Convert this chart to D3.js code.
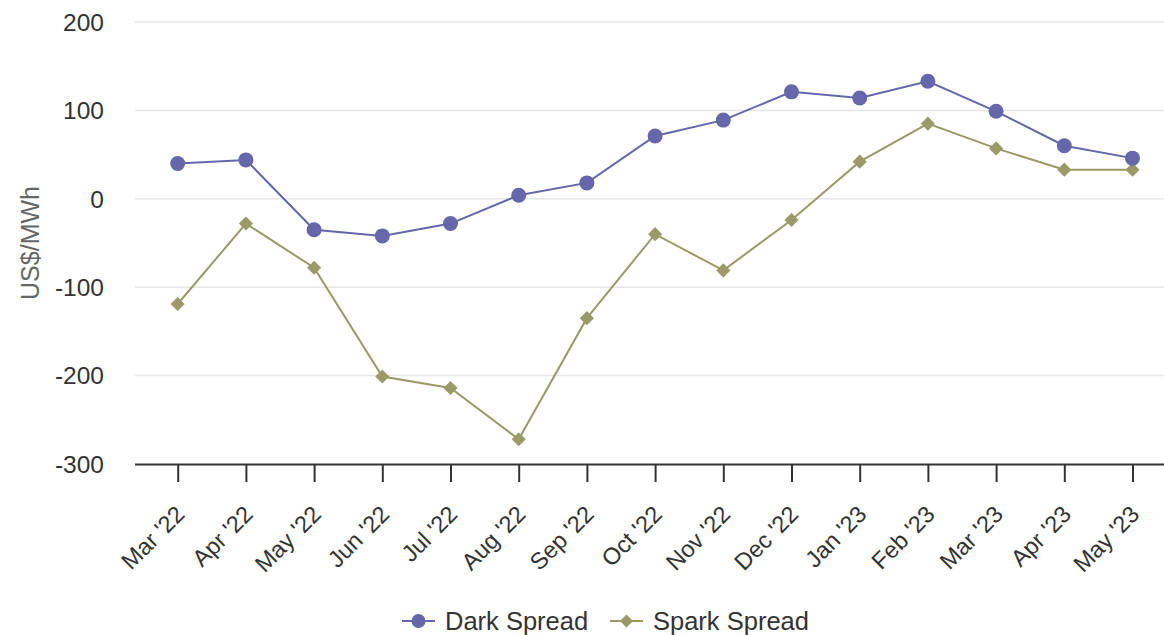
<!DOCTYPE html>
<html>
<head>
<meta charset="utf-8">
<script src="https://cdn.jsdelivr.net/npm/d3@7"></script>
<style>
  html, body { margin: 0; padding: 0; background: #fff; }
  svg { display: block; font-family: "Liberation Sans", Arial, sans-serif; }
</style>
</head>
<body>
<svg id="chart" width="1164" height="635"></svg>
<script>
// Monthly clean dark and spark spreads, US$/MWh
const months = ["Mar '22", "Apr '22", "May '22", "Jun '22", "Jul '22", "Aug '22", "Sep '22",
  "Oct '22", "Nov '22", "Dec '22", "Jan '23", "Feb '23", "Mar '23", "Apr '23", "May '23"];
const darkSpread = [40, 44, -35, -42, -28, 4, 18, 71, 89, 121, 114, 133, 99, 60, 46];
const sparkSpread = [-119, -28, -78, -201, -214, -272, -135, -40, -81, -24, 42, 85, 57, 33, 33];
const yTicks = [200, 100, 0, -100, -200, -300];

const darkColor = "#6666aa";
const sparkColor = "#9a9a68";

const svg = d3.select("#chart");
const plotLeft = 135, plotRight = 1164;

const x = d3.scalePoint().domain(months).range([177.7, 1132.5]);
const y = d3.scaleLinear().domain([-300, 200]).range([464, 22]);

// gridlines
svg.append("g")
  .selectAll("line")
  .data(yTicks.filter(t => t !== -300))
  .join("line")
  .attr("x1", plotLeft).attr("x2", plotRight)
  .attr("y1", d => y(d)).attr("y2", d => y(d))
  .attr("stroke", "#e6e6e6").attr("stroke-width", 1.5);

// y tick labels
svg.append("g")
  .selectAll("text")
  .data(yTicks)
  .join("text")
  .attr("x", 104).attr("y", d => y(d))
  .attr("dy", "0.36em")
  .attr("text-anchor", "end")
  .attr("font-size", 24.5)
  .attr("fill", "#333")
  .text(d => d);

// y axis title
svg.append("text")
  .attr("transform", `translate(30,243) rotate(-90)`)
  .attr("text-anchor", "middle")
  .attr("dy", "0.35em")
  .attr("font-size", 25)
  .attr("fill", "#666")
  .text("US$/MWh");

// x axis
const xAxis = d3.axisBottom(x).tickSize(18).tickSizeOuter(0).tickPadding(6);
const gx = svg.append("g").attr("transform", `translate(0,${y(-300)})`).call(xAxis);
gx.attr("font-size", null).attr("font-family", null);
gx.select(".domain").attr("d", `M${plotLeft},0.5H${plotRight}`).attr("stroke", "#333").attr("stroke-width", 2);
gx.selectAll(".tick line").attr("stroke", "#333").attr("stroke-width", 2);
gx.selectAll(".tick text")
  .attr("font-size", 23.5)
  .attr("fill", "#333")
  .attr("text-anchor", "end")
  .attr("transform", "translate(2,46) rotate(-45)")
  .attr("dy", "0.35em")
  .attr("y", 0).attr("x", 0);

// series
const line = d3.line().x((d, i) => x(months[i])).y(d => y(d));

svg.append("path").datum(sparkSpread)
  .attr("d", line).attr("fill", "none")
  .attr("stroke", sparkColor).attr("stroke-width", 2);
svg.append("path").datum(darkSpread)
  .attr("d", line).attr("fill", "none")
  .attr("stroke", darkColor).attr("stroke-width", 2);

svg.append("g").selectAll("path")
  .data(sparkSpread)
  .join("path")
  .attr("transform", (d, i) => `translate(${x(months[i])},${y(d)}) rotate(45)`)
  .attr("d", d3.symbol().type(d3.symbolSquare).size(100))
  .attr("fill", sparkColor);

svg.append("g").selectAll("circle")
  .data(darkSpread)
  .join("circle")
  .attr("cx", (d, i) => x(months[i]))
  .attr("cy", d => y(d))
  .attr("r", 7.5)
  .attr("fill", darkColor);

// legend
const legendY = 621;
const legendItems = [
  { name: "Dark Spread", color: darkColor, shape: "circle", x0: 402, tx: 445 },
  { name: "Spark Spread", color: sparkColor, shape: "diamond", x0: 610, tx: 653 }
];
const lg = svg.append("g");
legendItems.forEach(it => {
  const g = lg.append("g");
  g.append("line")
    .attr("x1", it.x0).attr("x2", it.x0 + 33)
    .attr("y1", legendY).attr("y2", legendY)
    .attr("stroke", it.color).attr("stroke-width", 2);
  if (it.shape === "circle") {
    g.append("circle").attr("cx", it.x0 + 16.5).attr("cy", legendY).attr("r", 7).attr("fill", it.color);
  } else {
    g.append("path")
      .attr("transform", `translate(${it.x0 + 16.5},${legendY}) rotate(45)`)
      .attr("d", d3.symbol().type(d3.symbolSquare).size(85))
      .attr("fill", it.color);
  }
  g.append("text")
    .attr("x", it.tx).attr("y", legendY)
    .attr("dy", "0.35em")
    .attr("font-size", 25.5)
    .attr("fill", "#333")
    .text(it.name);
});
</script>
</body>
</html>
